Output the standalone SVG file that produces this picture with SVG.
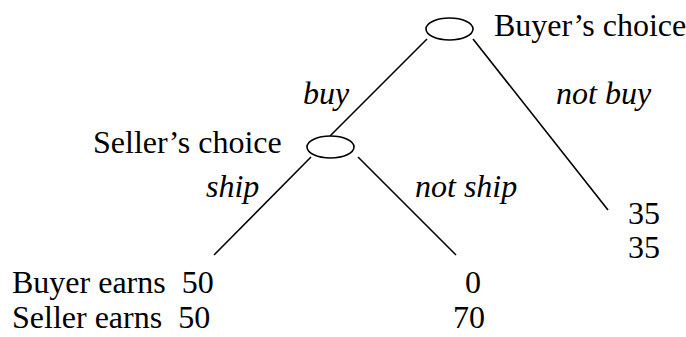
<svg xmlns="http://www.w3.org/2000/svg" width="686" height="337" viewBox="0 0 686 337">
<style>
text{font-family:"Liberation Serif","Times New Roman","DejaVu Serif",serif;font-size:32px;fill:#000;white-space:pre}
.i{font-style:italic}
.n{fill:#fff;stroke:#000;stroke-width:1.6}
.c{stroke:#000;stroke-width:1.6;fill:none}
</style>
<rect width="686" height="337" fill="#fff"/>
<g id="connectors">
<line class="c" x1="427" y1="39" x2="330" y2="136"/>
<line class="c" x1="473" y1="39" x2="608" y2="210"/>
<line class="c" x1="311" y1="157" x2="214" y2="255"/>
<line class="c" x1="358" y1="157" x2="456" y2="255"/>
<text class="i" x="303" y="104" font-family="Liberation Serif">buy</text>
<text class="i" x="556" y="104" font-family="Liberation Serif">not buy</text>
<text class="i" x="206" y="197" font-family="Liberation Serif">ship</text>
<text class="i" x="415" y="197" font-family="Liberation Serif">not ship</text>
</g>
<g id="buyer-node">
<ellipse class="n" cx="449.5" cy="29" rx="23.5" ry="11"/>
<text x="494" y="36" font-family="Liberation Serif">Buyer’s choice</text>
</g>
<g id="seller-node">
<ellipse class="n" cx="330.5" cy="147" rx="23.5" ry="11"/>
<text x="93" y="153" font-family="Liberation Serif">Seller’s choice</text>
</g>
<g id="payoff-notbuy">
<text x="628" y="224" font-family="Liberation Serif">35</text>
<text x="628" y="258" font-family="Liberation Serif">35</text>
</g>
<g id="payoff-ship">
<text x="12" y="293" font-family="Liberation Serif">Buyer earns  50</text>
<text x="12" y="328" font-family="Liberation Serif">Seller earns  50</text>
</g>
<g id="payoff-notship">
<text x="465" y="293" font-family="Liberation Serif">0</text>
<text x="453" y="328" font-family="Liberation Serif">70</text>
</g>
</svg>
